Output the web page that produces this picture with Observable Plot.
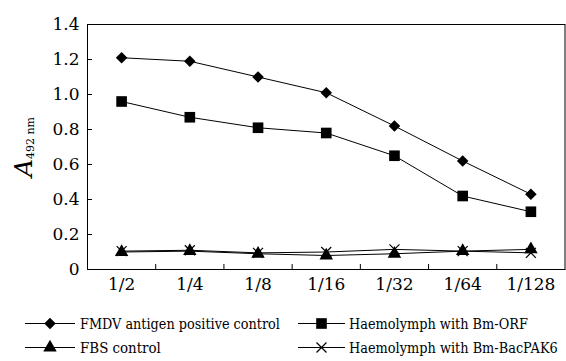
<!DOCTYPE html>
<html>
<head>
<meta charset="utf-8">
<script src="https://cdn.jsdelivr.net/npm/d3@7"></script>
<script src="https://cdn.jsdelivr.net/npm/@observablehq/plot@0.6"></script>
<style>
  html, body { margin: 0; padding: 0; background: #fff; }
  #chart { width: 566px; }
  #chart svg { display: block; }
</style>
</head>
<body>
<div id="chart"></div>
<script>
// ---- data ----
const categories = ["1/2", "1/4", "1/8", "1/16", "1/32", "1/64", "1/128"];
const fmdvValues   = [1.21, 1.19, 1.10, 1.01, 0.82, 0.62, 0.43];
const orfValues    = [0.96, 0.87, 0.81, 0.78, 0.65, 0.42, 0.33];
const fbsValues    = [0.10, 0.105, 0.09, 0.08, 0.09, 0.105, 0.115];
const bacpakValues = [0.105, 0.11, 0.095, 0.10, 0.115, 0.105, 0.095];
const seriesNames = ["FMDV antigen positive control", "Haemolymph with Bm-ORF", "FBS control", "Haemolymph with Bm-BacPAK6"];
const yTicks = [0, 0.2, 0.4, 0.6, 0.8, 1.0, 1.2, 1.4];

const FONT = "'DejaVu Serif', serif";
const seriesValues = [fmdvValues, orfValues, fbsValues, bacpakValues];
const symbols = ["diamond2", "square", "triangle", "times"];
const radii = [5.2, 6.0, 5.0, 4.6];

const rows = [];
seriesValues.forEach((vals, s) => vals.forEach((v, i) => rows.push({series: seriesNames[s], i, v})));
const boundaries = d3.range(categories.length - 1).map(i => i + 0.5);

const dotMarks = seriesNames.map((name, s) =>
  Plot.dot(rows.filter(d => d.series === name), {
    x: "i", y: "v", symbol: () => symbols[s], r: radii[s],
    fill: s === 3 ? "none" : "black", stroke: s === 3 ? "black" : "none", strokeWidth: 1.2
  })
);

const plot = Plot.plot({
  width: 566,
  height: 300,
  marginLeft: 87,
  marginRight: 1.5,
  marginTop: 24,
  marginBottom: 31,
  style: {fontFamily: FONT, fontSize: "17px", color: "black", background: "white"},
  symbol: {type: "identity"},
  x: {type: "linear", domain: [-0.5, categories.length - 0.5]},
  y: {domain: [0, 1.4]},
  marks: [
    Plot.frame({stroke: "black", strokeWidth: 1}),
    Plot.axisY({ticks: yTicks, tickSize: -5, tickPadding: 13, label: null,
      tickFormat: d => d === 0 ? "0" : d.toFixed(1), fontSize: 17}),
    Plot.axisX({ticks: d3.range(categories.length), tickSize: 0, tickPadding: 8, label: null,
      tickFormat: i => categories[i], fontSize: 17}),
    Plot.axisX({ticks: boundaries, tickSize: -5, label: null, tickFormat: () => ""}),
    Plot.line(rows, {x: "i", y: "v", z: "series", stroke: "black", strokeWidth: 1}),
    ...dotMarks
  ]
});

// y-axis title: italic A with subscript 492 nm
const svg = d3.select(plot);
const t = svg.append("text")
  .attr("transform", "translate(32,147) rotate(-90)")
  .attr("text-anchor", "middle")
  .style("font-family", FONT)
  .attr("fill", "black");
t.append("tspan").attr("font-style", "italic").attr("font-size", 25).text("A");
t.append("tspan").attr("font-size", 11).attr("dy", 2).text("492 nm");

document.getElementById("chart").appendChild(plot);

// legend below the chart (an SVG of its own)
const legendPos = [
  {sx: 25, w: 50, tx: 80, tw: 200, y: 24},
  {sx: 298, w: 47, tx: 349, tw: 179, y: 24},
  {sx: 25, w: 50, tx: 80, tw: 81, y: 48},
  {sx: 298, w: 47, tx: 349, tw: 209, y: 48}
];
const lg = d3.select("#chart").append("svg").attr("width", 566).attr("height", 61)
  .attr("viewBox", "0 0 566 61").style("font-family", FONT);
const symTypes = [d3.symbolDiamond2, d3.symbolSquare, d3.symbolTriangle, d3.symbolTimes];
seriesNames.forEach((name, s) => {
  const p = legendPos[s];
  const y = p.y - 0.5;
  lg.append("line").attr("x1", p.sx).attr("x2", p.sx + p.w).attr("y1", y).attr("y2", y)
    .attr("stroke", "black").attr("stroke-width", 1);
  const sym = d3.symbol().type(symTypes[s]).size(Math.PI * radii[s] * radii[s]);
  lg.append("path").attr("d", sym()).attr("transform", `translate(${p.sx + p.w / 2},${y})`)
    .attr("fill", s === 3 ? "none" : "black").attr("stroke", s === 3 ? "black" : "none").attr("stroke-width", 1.2);
  const txt = lg.append("text").attr("x", 0).attr("y", 0).attr("dy", "0.36em")
    .attr("font-size", 14).attr("fill", "black")
    .text(name);
  const natural = txt.node().getComputedTextLength() || p.tw;
  const k = Math.min(1, p.tw / natural);
  txt.attr("transform", `translate(${p.tx},${y}) scale(${k},1)`);
});
</script>
</body>
</html>
